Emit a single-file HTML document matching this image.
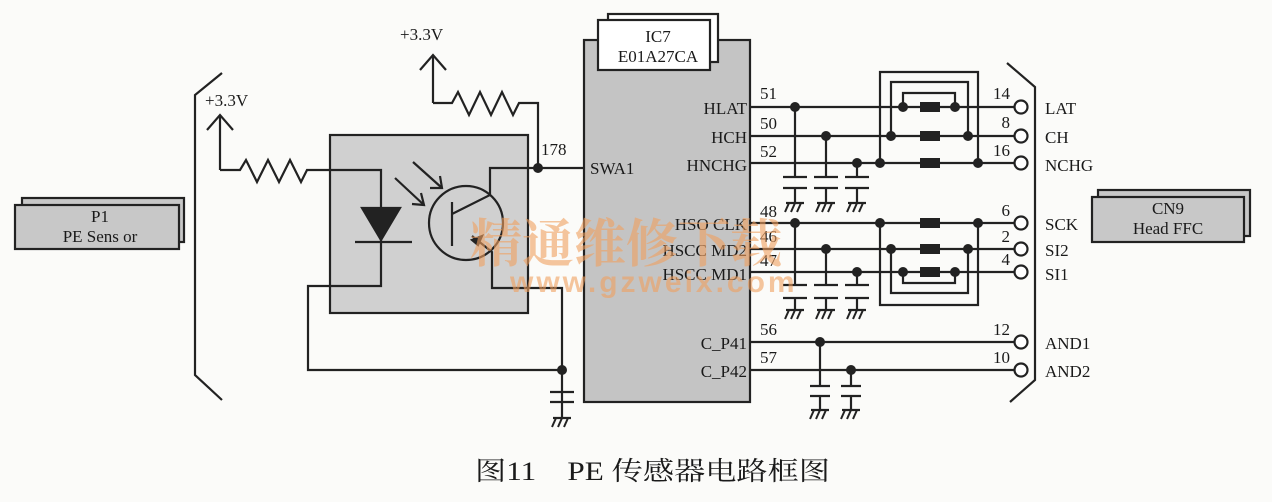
<!DOCTYPE html>
<html><head><meta charset="utf-8"><style>
html,body{margin:0;padding:0;background:#fbfbf9;}
svg{display:block;}
text{font-family:"Liberation Serif","Noto Serif CJK SC",serif;fill:#1a1a1a;}
</style></head><body>
<svg width="1272" height="502" viewBox="0 0 1272 502" xmlns="http://www.w3.org/2000/svg">
<defs>
<g id="gnd"><line x1="-9" y1="0" x2="9" y2="0" stroke="#222" stroke-width="2.2"/><line x1="-6" y1="0" x2="-10" y2="9" stroke="#222" stroke-width="2"/><line x1="0" y1="0" x2="-4" y2="9" stroke="#222" stroke-width="2"/><line x1="6" y1="0" x2="2" y2="9" stroke="#222" stroke-width="2"/></g>
</defs>
<g stroke="#222" stroke-width="2.2" fill="none">
<rect x="22" y="198" width="162" height="44" fill="#c8c8c8"/>
<rect x="15" y="205" width="164" height="44" fill="#c8c8c8"/>
<polyline points="222,73 195,95 195,375 222,400"/>
<rect x="330" y="135" width="198" height="178" fill="#d0d0d0"/>
<polyline points="220,170 220,115"/><polyline points="207,130 220,115 233,130"/>
<polyline points="220,170 240,170 246,160 257,182 268,160 279,182 290,160 301,182 307,170 381,170 381,286 308,286 308,370 562,370 562,288 492,288 492,252 472,236"/>
<polygon points="362,208 400,208 381,240" fill="#222"/>
<line x1="355" y1="242" x2="412" y2="242"/>
<circle cx="466" cy="223" r="37"/>
<line x1="452" y1="202" x2="452" y2="246"/>
<polyline points="452,214 490,195 490,168 584,168"/>
<polygon points="472,240 482,236 478,245" fill="#222"/>
<line x1="395" y1="178" x2="424" y2="205"/><polyline points="412,204 424,205 421,193"/>
<line x1="413" y1="162" x2="442" y2="188"/><polyline points="430,188 442,188 440,176"/>
<polyline points="433,103 433,55"/><polyline points="420,70 433,55 446,70"/>
<polyline points="433,103 452,103 458,92 469,115 480,92 491,115 502,92 513,115 519,103 538,103 538,168"/>
<line x1="562" y1="370" x2="562" y2="418"/>
<line x1="550" y1="392" x2="574" y2="392"/><line x1="550" y1="402" x2="574" y2="402"/>
<rect x="584" y="40" width="166" height="362" fill="#c4c4c4"/>
<rect x="608" y="14" width="110" height="48" fill="#fff"/>
<rect x="598" y="20" width="112" height="50" fill="#fff"/>
<line x1="750" y1="107" x2="1014" y2="107"/>
<line x1="750" y1="136" x2="1014" y2="136"/>
<line x1="750" y1="163" x2="1014" y2="163"/>
<line x1="750" y1="223" x2="1014" y2="223"/>
<line x1="750" y1="249" x2="1014" y2="249"/>
<line x1="750" y1="272" x2="1014" y2="272"/>
<line x1="750" y1="342" x2="1014" y2="342"/>
<line x1="750" y1="370" x2="1014" y2="370"/>
<polyline points="880,163 880,72 978,72 978,163"/>
<polyline points="891,136 891,82 968,82 968,136"/>
<polyline points="903,107 903,93 955,93 955,107"/>
<polyline points="880,223 880,305 978,305 978,223"/>
<polyline points="891,249 891,293 968,293 968,249"/>
<polyline points="903,272 903,283 955,283 955,272"/>
<line x1="795" y1="107" x2="795" y2="177"/><line x1="826" y1="136" x2="826" y2="177"/><line x1="857" y1="163" x2="857" y2="177"/>
<line x1="795" y1="188" x2="795" y2="203"/><line x1="826" y1="188" x2="826" y2="203"/><line x1="857" y1="188" x2="857" y2="203"/>
<line x1="783" y1="177" x2="807" y2="177"/><line x1="814" y1="177" x2="838" y2="177"/><line x1="845" y1="177" x2="869" y2="177"/>
<line x1="783" y1="188" x2="807" y2="188"/><line x1="814" y1="188" x2="838" y2="188"/><line x1="845" y1="188" x2="869" y2="188"/>
<line x1="795" y1="223" x2="795" y2="285"/><line x1="826" y1="249" x2="826" y2="285"/><line x1="857" y1="272" x2="857" y2="285"/>
<line x1="795" y1="298" x2="795" y2="310"/><line x1="826" y1="298" x2="826" y2="310"/><line x1="857" y1="298" x2="857" y2="310"/>
<line x1="783" y1="285" x2="807" y2="285"/><line x1="814" y1="285" x2="838" y2="285"/><line x1="845" y1="285" x2="869" y2="285"/>
<line x1="783" y1="298" x2="807" y2="298"/><line x1="814" y1="298" x2="838" y2="298"/><line x1="845" y1="298" x2="869" y2="298"/>
<line x1="820" y1="342" x2="820" y2="386"/><line x1="851" y1="370" x2="851" y2="386"/>
<line x1="820" y1="396" x2="820" y2="410"/><line x1="851" y1="396" x2="851" y2="410"/>
<line x1="810" y1="386" x2="830" y2="386"/><line x1="841" y1="386" x2="861" y2="386"/>
<line x1="810" y1="396" x2="830" y2="396"/><line x1="841" y1="396" x2="861" y2="396"/>
<polyline points="1007,63 1035,87 1035,380 1010,402"/>
<rect x="1098" y="190" width="152" height="46" fill="#c8c8c8"/>
<rect x="1092" y="197" width="152" height="45" fill="#c8c8c8"/>
<g fill="#fff">
<circle cx="1021" cy="107" r="6.5"/><circle cx="1021" cy="136" r="6.5"/><circle cx="1021" cy="163" r="6.5"/>
<circle cx="1021" cy="223" r="6.5"/><circle cx="1021" cy="249" r="6.5"/><circle cx="1021" cy="272" r="6.5"/>
<circle cx="1021" cy="342" r="6.5"/><circle cx="1021" cy="370" r="6.5"/>
</g>
</g>
<use href="#gnd" x="562" y="418"/>
<use href="#gnd" x="795" y="203"/><use href="#gnd" x="826" y="203"/><use href="#gnd" x="857" y="203"/>
<use href="#gnd" x="795" y="310"/><use href="#gnd" x="826" y="310"/><use href="#gnd" x="857" y="310"/>
<use href="#gnd" x="820" y="410"/><use href="#gnd" x="851" y="410"/>
<g fill="#222">
<circle cx="538" cy="168" r="5"/><circle cx="562" cy="370" r="5"/>
<circle cx="795" cy="107" r="5"/><circle cx="826" cy="136" r="5"/><circle cx="857" cy="163" r="5"/>
<circle cx="880" cy="163" r="5"/><circle cx="978" cy="163" r="5"/><circle cx="891" cy="136" r="5"/><circle cx="968" cy="136" r="5"/><circle cx="903" cy="107" r="5"/><circle cx="955" cy="107" r="5"/>
<circle cx="880" cy="223" r="5"/><circle cx="978" cy="223" r="5"/><circle cx="891" cy="249" r="5"/><circle cx="968" cy="249" r="5"/><circle cx="903" cy="272" r="5"/><circle cx="955" cy="272" r="5"/>
<circle cx="795" cy="223" r="5"/><circle cx="826" cy="249" r="5"/><circle cx="857" cy="272" r="5"/>
<circle cx="820" cy="342" r="5"/><circle cx="851" cy="370" r="5"/>
<rect x="920" y="102" width="20" height="10"/><rect x="920" y="131" width="20" height="10"/><rect x="920" y="158" width="20" height="10"/>
<rect x="920" y="218" width="20" height="10"/><rect x="920" y="244" width="20" height="10"/><rect x="920" y="267" width="20" height="10"/>
</g>
<g font-size="17">
<text x="100" y="222" text-anchor="middle">P1</text>
<text x="100" y="242" text-anchor="middle">PE Sens or</text>
<text x="205" y="106">+3.3V</text>
<text x="400" y="40">+3.3V</text>
<text x="541" y="155">178</text>
<text x="590" y="174">SWA1</text>
<text x="658" y="42" text-anchor="middle">IC7</text>
<text x="658" y="62" text-anchor="middle">E01A27CA</text>
<g text-anchor="end">
<text x="747" y="114">HLAT</text><text x="747" y="143">HCH</text><text x="747" y="171">HNCHG</text>
<text x="747" y="230">HSO CLK</text><text x="747" y="256">HSCC MD2</text><text x="747" y="280">HSCC MD1</text>
<text x="747" y="349">C_P41</text><text x="747" y="377">C_P42</text>
</g>
<text x="760" y="99">51</text><text x="760" y="129">50</text><text x="760" y="157">52</text>
<text x="760" y="217">48</text><text x="760" y="242">46</text><text x="760" y="266">47</text>
<text x="760" y="335">56</text><text x="760" y="363">57</text>
<g text-anchor="end">
<text x="1010" y="99">14</text><text x="1010" y="128">8</text><text x="1010" y="156">16</text>
<text x="1010" y="216">6</text><text x="1010" y="242">2</text><text x="1010" y="265">4</text>
<text x="1010" y="335">12</text><text x="1010" y="363">10</text>
</g>
<text x="1045" y="114">LAT</text><text x="1045" y="143">CH</text><text x="1045" y="171">NCHG</text>
<text x="1045" y="230">SCK</text><text x="1045" y="256">SI2</text><text x="1045" y="280">SI1</text>
<text x="1045" y="349">AND1</text><text x="1045" y="377">AND2</text>
<text x="1168" y="214" text-anchor="middle">CN9</text>
<text x="1168" y="234" text-anchor="middle">Head FFC</text>
</g>
<g opacity="0.6" font-weight="bold">
<text x="470" y="262" font-size="52" style="fill:#f0a060">精通维修下载</text>
<text x="510" y="292" font-size="30" style="fill:#f0a060;font-family:'Liberation Sans',sans-serif" letter-spacing="3">www.gzweix.com</text>
</g>
<text x="475" y="480" font-size="26" textLength="355" lengthAdjust="spacingAndGlyphs">图11　PE 传感器电路框图</text>
</svg>
</body></html>
